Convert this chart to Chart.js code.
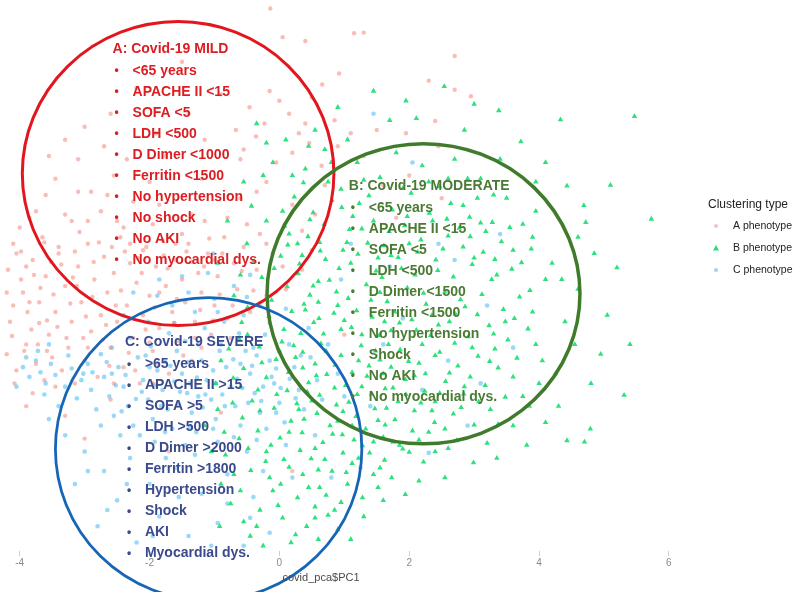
<!DOCTYPE html>
<html>
<head>
<meta charset="utf-8">
<script src="https://cdn.jsdelivr.net/npm/chart.js@4.4.1/dist/chart.umd.min.js"></script>
<style>
  html, body { margin: 0; padding: 0; background: #ffffff; }
  #wrap { position: relative; width: 795px; height: 592px; }
</style>
</head>
<body>
<div id="wrap"><canvas id="c" width="795" height="592"></canvas></div>
<script>
// PCA scores (PC1, PC2) per clustering phenotype
const xTicks = [-4, -2, 0, 2, 4, 6];
const seriesNames = ['A phenotype', 'B phenotype', 'C phenotype'];

const phenoA = [
  [-0.14,4.22],[0.05,3.78],[0.4,3.72],[1.15,3.84],[1.3,3.85],[0.92,3.22],[2.7,3.49],[2.3,3.11],[2.7,2.97],[2.95,2.87],
  [2.4,2.49],[0.66,3.05],[0.5,2.85],[0,2.8],[0.15,2.6],[-0.46,2.7],[-0.23,2.45],[0.4,2.45],[0.46,2.15],[0.2,2.0],
  [-0.36,2.25],[-0.67,2.35],[1.5,2.35],[1.95,2.3],[1.3,1.95],[0.9,2.1],[2.0,1.65],[1.6,1.5],[2.45,2.1],[-0.9,2.9],
  [-1.5,3.4],[-2.2,3.0],[-2.6,2.6],
  [-3.3,2.2],[-3.1,1.9],[-3.45,1.6],[-2.9,1.4],[-3.6,1.35],[-3.0,2.4],[-2.7,2.1],[-2.55,1.65],[-2.75,1.1],[-3.2,0.95],
  [-3.85,1.0],[-3.65,0.7],[-3.4,0.45],[-3.9,0.25],[-2.4,0.85],[-2.25,1.25],[-2.0,1.55],
  [-1.2,1.6],[-0.8,1.0],[-1.6,0.6],[-0.5,0.9],[-2.1,0.5],[-0.35,1.4],[-0.2,0.6],[-1.0,0.35],[0.2,1.2],[0.35,0.8],
  [0.05,0.25],[0.55,1.05],[0.7,1.5],[-0.6,1.9],[-1.9,2.3],[-1.4,2.6],
  [-4.1,0.6],[-3.95,-0.15],[-4.15,-0.6],[-3.8,0.35],[-3.7,-0.3],[-3.6,0.1],[-3.55,-0.8],[-3.45,-0.45],[-3.4,0.55],[-3.3,-0.05],
  [-3.25,-1.0],[-3.2,-0.6],[-3.1,0.25],[-3.05,-0.3],[-3.0,-1.2],[-2.95,0.6],[-2.9,-0.75],[-2.85,0.05],[-2.8,-1.45],[-2.75,-0.5],
  [-2.7,0.4],[-2.65,-0.15],[-2.6,-1.0],[-2.55,0.15],[-2.5,-0.6],[-2.45,0.7],[-2.4,-1.3],[-2.35,-0.35],[-2.3,0.3],[-2.25,-0.85],
  [-2.2,0.0],[-2.15,-1.55],[-2.1,-0.5],[-2.05,0.55],[-2.0,-0.2],[-1.95,-1.05],[-1.9,0.25],[-1.85,-0.7],[-1.8,0.65],[-1.75,-0.05],
  [-1.7,-1.4],[-1.65,-0.45],[-1.6,0.35],[-1.55,-0.9],[-1.5,0.05],[-1.45,-0.3],[-1.4,0.6],[-1.35,-1.2],[-1.3,-0.6],[-1.25,0.15],
  [-1.2,-0.15],[-1.1,0.45],[-1.05,-0.8],[-1.0,-0.35],[-0.95,0.1],[-0.85,0.7],[-0.8,-0.55],[-0.7,0.3],[-0.65,-0.1],[-0.55,0.55],
  [-0.45,-0.45],[-0.35,0.2],[-0.2,-0.2],[-0.1,0.45],[0.1,-0.1],
  [-4.2,-1.1],[-4.05,-1.35],[-3.9,-0.95],[-3.75,-1.25],[-3.62,-1.5],[-3.5,-1.15],[-3.35,-1.35],[-3.15,-1.55],[-3.58,-1.05],[-3.28,-0.85],
  [-3.7,-0.62],[-2.95,-1.0],[-3.9,-1.9],[-3.3,-2.05],[-2.6,-1.8],[-3.0,-2.4],
  [0.5,0.5],[1.0,-0.8],[-0.9,-2.0],[0.2,-2.9],[-1.7,-2.6],[1.8,1.0],[2.5,1.3],[-0.2,1.55],
  [-4.18,0.2],[-4.0,0.85],[-3.88,-0.45],[-3.78,0.12],[-3.62,0.62],[-3.48,-0.18],[-3.36,0.28],[-3.22,-0.32],[-3.08,0.78],[-2.98,-0.52],
  [-2.86,0.32],[-2.72,-0.88],[-2.58,0.55],[-2.44,-0.12],[-2.32,-1.08],[-2.18,0.38],[-2.06,-0.72],[-1.92,-0.38],[-1.78,0.42],[-1.62,-0.62],
  [-1.48,-1.12],[-1.36,0.32],[-1.22,-0.42],[-1.08,0.68],[-0.92,-0.18],[-3.98,0.48],[-3.72,-0.95],[-3.15,0.48],[-2.62,-1.28],[-2.22,-1.35],
  [-1.88,-1.25],[-2.5,0.95],[-3.3,1.05],[-1.95,0.9],[-1.5,0.75],[-1.15,0.95],[-3.82,-0.72],[-4.1,-0.35],
  [-4.12,-0.82],[-3.93,-1.05],[-3.68,-0.08],[-3.52,0.32],[-3.42,-0.68],[-3.18,0.08],[-3.02,-0.85],[-2.88,-0.22],[-2.78,0.62],[-2.67,-0.65],
  [-2.52,-0.35],[-2.38,0.48],[-2.27,-0.55],[-2.12,0.15],[-2.0,-0.92],[-1.85,-0.15],[-1.72,0.22],[-1.58,-0.25],[-1.43,0.48],[-1.3,-0.85],
  [-1.16,0.25],[-1.02,-0.58],[-0.88,0.45],[-0.72,-0.35],[-0.58,0.18],[-0.4,-0.12],[-3.85,-0.3],[-3.98,0.05],[-3.58,-0.58],[-3.12,-0.05],
  [-0.05,1.85],[0.3,2.3],[-0.55,2.05],[0.65,1.8],[-0.15,2.95],[0.85,2.5],[1.1,2.3],[-1.15,2.2],[-1.75,1.95],[-2.35,1.9],
  [-3.55,1.95],[-3.75,1.1],[-4.05,0.45],[-2.65,1.35],[-2.95,0.95],[-3.1,1.4],[-2.3,0.6],[-1.85,1.2],[-1.35,1.05],[-0.6,1.3],
  [-4.2,-0.15],[-4.08,-1.55],[-3.8,-1.7],[-3.45,-1.6],[-2.55,-1.55],[-1.95,-1.55],[-1.2,-1.0],[-0.75,-0.85],[0.35,0.2],[-0.3,0.75]
];

const phenoB = [
  [-0.35,2.45],[0.1,2.2],[-0.1,1.85],[0.55,2.35],[0.9,2.7],[1.45,2.95],[2.54,3.02],[3.38,2.65],[4.33,2.51],[5.47,2.56],
  [2.11,2.53],[3.72,2.17],[1.8,2.0],[1.2,1.85],[2.7,1.9],[3.1,1.6],[0.4,1.75],[-0.55,1.55],[0.75,1.55],[2.3,1.55],
  [3.5,1.3],[4.43,1.49],[4.69,1.19],[4.72,0.93],[5.73,0.98],[5.2,0.23],[3.1,0.92],[3.9,0.7],[4.2,0.3],[4.6,-0.1],
  [4.95,-1.1],[4.8,-1.55],[5.31,-1.73],[4.79,-2.25],[4.7,-2.45],[4.43,-2.43],[3.81,-2.5],[3.2,-2.47],[2.73,-2.43],[2.99,-2.77],
  [2.22,-2.76],[1.94,-3.26],[2.4,-2.6],[4.3,-1.9],[4.05,-1.2],[4.4,-0.6],[3.75,-1.75],[4.1,0.05],[3.6,-2.2],[5.05,-0.5],
  [4.85,0.45],[3.95,1.1],
  [0.23,1.32],[0.52,1.08],[0.81,1.27],[1.13,1.02],[1.38,1.34],[1.74,1.12],[2.03,1.38],[2.31,1.07],[2.64,1.22],[2.93,1.01],
  [3.28,0.93],[0.08,0.87],[0.44,0.71],[0.69,0.9],[1.04,0.62],[1.27,0.83],[1.61,0.57],[1.93,0.88],[2.18,0.66],[2.52,0.52],
  [2.77,0.84],[3.14,0.47],[3.42,0.63],[3.73,0.31],[0.02,0.41],[0.31,0.29],[0.63,0.49],[0.92,0.22],[1.21,0.44],[1.49,0.18],
  [1.83,0.39],[2.09,0.12],[2.41,0.35],[2.68,0.09],[2.97,0.28],[3.27,0.05],[3.58,0.21],[3.86,-0.12],[-0.27,0.08],[0.12,-0.06],
  [0.47,-0.19],[0.77,0.04],[1.06,-0.24],[1.34,-0.03],[1.66,-0.29],[1.97,-0.08],[2.26,-0.33],[2.55,-0.14],[2.86,-0.37],[3.12,-0.18],
  [3.45,-0.41],[3.7,-0.22],[-0.49,-0.38],[-0.16,-0.52],[0.19,-0.44],[0.53,-0.61],[0.84,-0.47],[1.11,-0.69],[1.43,-0.53],[1.72,-0.74],
  [2.04,-0.57],[2.33,-0.81],[2.62,-0.6],[2.91,-0.83],[3.23,-0.66],[3.52,-0.88],[3.83,-0.71],[-0.62,-0.86],[-0.31,-0.99],[0.04,-0.91],
  [0.36,-1.07],[0.64,-0.94],[0.95,-1.12],[1.26,-0.97],[1.55,-1.19],[1.86,-1.03],[2.15,-1.24],[2.47,-1.07],[2.75,-1.28],[3.06,-1.13],
  [3.37,-1.31],[3.66,-1.16],[-0.55,-1.32],[-0.2,-1.46],[0.14,-1.38],[0.45,-1.54],[0.73,-1.41],[1.02,-1.58],[1.35,-1.44],[1.63,-1.63],
  [1.94,-1.49],[2.24,-1.67],[2.56,-1.52],[2.84,-1.71],[3.17,-1.58],[3.48,-1.76],[-0.42,-1.82],[-0.08,-1.93],[0.27,-1.86],[0.58,-2.01],
  [0.88,-1.88],[1.18,-2.06],[1.47,-1.94],[1.78,-2.11],[2.08,-1.97],[2.39,-2.15],[2.68,-2.02],[3.0,-2.19],[-0.33,-2.28],[0.01,-2.39],
  [0.35,-2.31],[0.67,-2.46],[0.97,-2.34],[1.28,-2.51],[1.6,-2.38],[1.9,-2.56],[-0.21,-2.75],[0.15,-2.84],[0.49,-2.71],[0.81,-2.9],
  [1.12,-2.78],[1.45,-2.95],[-0.1,-3.2],[0.28,-3.31],[0.62,-3.15],[0.95,-3.38],[0.05,-3.62],[0.42,-3.75],[-0.3,-3.5],[0.75,-3.58],
  [0.37,1.54],[1.55,1.62],[2.47,1.48],[0.95,1.44],[2.2,1.8],[3.05,1.3],[1.88,0.22],[0.6,0.02],[2.83,0.55],[3.32,0.36],
  [1.45,0.95],[0.28,0.6],[2.36,0.95],[1.1,0.3],[1.78,-0.45],[2.71,-0.48],[0.9,-0.35],[0.33,-0.78],[1.27,-0.8],[2.2,-0.95],
  [3.32,-1.02],[-0.05,-1.18],[0.55,-1.25],[1.72,-1.3],[2.94,-1.45],[1.2,-1.72],[2.4,-1.83],[-0.6,-1.6],[0.12,-1.66],[0.78,-2.2],
  [1.62,-2.73],[2.15,-2.42],[-0.48,-2.55],[0.32,-2.58],[1.33,-2.25],[0.55,-3.45],[-0.15,-3.0],[1.05,-3.1],[0.18,-4.0],[-0.45,-3.9],
  [0.6,-3.95],[1.3,-3.6],[-0.7,-2.95],[-0.85,-2.3],[-0.95,-1.95],[-0.75,-3.4],[-0.9,-1.2],[-0.7,-0.2],[-0.95,0.3],[-0.5,0.6],
  [-0.2,0.95],[-0.8,0.95],[3.9,-0.45],[3.6,-1.45],[3.95,-0.95],[3.25,-1.95],[3.55,0.85],[3.88,0.52],[4.0,-1.55],[2.55,-2.25],
  [2.8,-1.92],[1.15,-2.42],
  [0.4,-0.42],[0.68,-0.79],[1.0,-0.58],[1.38,-1.28],[1.68,-0.95],[1.95,-1.72],[0.5,-1.82],[0.85,-1.62],[1.52,-2.12],[2.05,-2.28],
  [0.25,-1.15],[1.85,-0.62],[0.72,-1.05],[1.12,-1.38],[1.42,-1.71],[0.38,-2.1],[0.98,-2.62],[1.75,-2.45],[2.25,-1.4],[0.6,-0.3],
  [1.55,-0.15],[2.45,-0.65],
  [0.13,0.58],[0.71,0.36],[1.36,0.61],[2.13,0.47],[2.94,0.71],[-0.39,0.33],[0.96,1.16],[1.69,0.79],[2.58,0.98],[3.35,0.12],
  [-0.12,-0.27],[0.29,0.14],[0.88,-0.14],[1.58,0.08],[2.22,-0.16],[2.79,-0.26],[3.48,-0.6],[-0.58,-0.61],[0.07,-0.72],[0.61,-0.55],
  [1.19,-0.43],[1.54,-0.81],[2.11,-0.73],[2.7,-0.93],[3.05,-0.49],[-0.27,-1.23],[0.36,-1.31],[0.86,-1.27],[1.48,-1.05],[1.99,-1.21],
  [2.62,-1.39],[3.24,-1.21],[-0.71,-1.47],[-0.04,-1.72],[0.62,-1.73],[1.07,-1.84],[1.83,-1.83],[2.47,-1.7],[3.07,-1.83],[-0.57,-2.08],
  [0.18,-2.13],[0.9,-2.13],[1.63,-2.19],[2.3,-2.3],[-0.13,-2.5],[0.55,-2.55],[1.39,-2.62],[2.0,-2.61],[-0.44,-2.89],[0.36,-2.95],
  [1.03,-2.92],[1.73,-3.0],[-0.02,-3.43],[0.72,-3.27],[1.28,-3.31],[-0.55,-3.68],[0.25,-3.88],[0.9,-3.8],[-0.25,-4.05],[1.1,-3.95],
  [0.47,0.97],[1.23,1.22],[1.97,1.02],[2.83,1.19],[0.05,1.1],[-0.43,1.18],[3.6,0.5],[3.18,0.79],[2.44,0.19],[1.72,0.42],
  [0.98,0.5],[0.35,0.42],[-0.08,0.22],[-0.6,0.12],[0.52,-0.05],[1.41,-0.27],[2.35,-0.5],[3.3,-0.79],[3.62,-0.55],[2.97,-1.0],
  [2.08,-1.43],[1.27,-1.6],[0.43,-1.68],[-0.33,-1.65],[-0.78,-1.02],[-0.49,-0.8],[0.22,-0.97],[1.6,-1.4],[2.35,-1.97],[1.12,-2.2],
  [0.7,-2.72],[1.55,-2.85],[0.07,-2.72],[-0.62,-2.4],[0.45,-3.15],[1.85,-2.5],[2.6,-2.55],[3.37,-2.18],[3.85,-1.9],[4.25,-1.4],
  [4.55,-0.95],[4.35,0.05],[4.6,0.7],[3.95,1.55],[3.4,1.9],[2.85,2.35],[1.7,2.5],[0.7,2.05],[-0.2,2.15],[0.2,1.65],
  [1.95,2.8],[3.0,2.75],[4.1,1.85],[5.1,1.5],[5.4,-0.95],[4.1,-2.15],[3.35,-2.7],[2.55,-3.0],[1.6,-3.35],[2.15,-3.05],
  [0.15,0.75],[0.62,0.62],[1.08,0.82],[1.52,0.38],[2.0,0.6],[2.6,0.72],[3.0,0.38],[0.38,-0.33],[0.95,-0.72],[1.62,-0.6],
  [2.4,-1.12],[2.85,-1.6],[0.0,-1.05],[0.57,-1.43],[1.22,-1.2],[1.75,-1.62],[2.18,-1.85],[0.3,-1.95],[0.98,-1.98],[1.65,-1.93],
  [-0.3,-1.97],[0.82,-2.33],[1.45,-2.45],[0.15,-2.3],[-0.2,-2.6],[0.6,-2.88],[1.22,-2.7],[0.02,-3.1],[0.55,-3.62],[-0.6,-3.2],
  [-0.35,-3.75],[0.85,-3.5],[1.52,-3.15],[-0.83,-2.65],[-0.72,-1.85],[-0.98,-1.55],[-1.05,-2.6],[-0.9,-3.1],[-1.15,-2.2],[-0.92,-3.75],
  [1.3,1.58],[1.9,1.45],[2.6,1.6],[0.8,1.85],[1.05,2.2],[2.9,1.6],[3.3,1.35],[0.45,2.1],[-0.25,1.65],[3.75,0.9]
];

const phenoC = [
  [-3.95,-1.3],[-3.85,-1.45],[-3.75,-1.2],[-3.68,-1.38],[-3.6,-1.55],[-3.52,-1.25],[-3.45,-1.42],[-3.3,-1.6],[-3.2,-1.32],[-3.12,-1.78],
  [-3.05,-1.5],[-2.95,-1.25],[-2.9,-1.65],[-2.82,-1.95],[-3.4,-1.9],[-4.05,-1.6],[-3.55,-0.95],[-2.75,-1.1],
  [-2.7,-1.45],[-2.62,-1.75],[-2.55,-2.05],[-2.48,-1.3],[-2.4,-1.6],[-2.33,-1.9],[-2.25,-2.2],[-2.18,-1.15],[-2.1,-1.5],[-2.02,-1.8],
  [-1.95,-2.1],[-1.88,-1.35],[-1.8,-1.65],[-1.72,-1.95],[-1.65,-2.25],[-1.58,-1.05],[-1.5,-1.4],[-1.42,-1.7],[-1.35,-2.0],[-1.28,-2.3],
  [-1.2,-1.2],[-1.12,-1.5],[-1.05,-1.8],[-0.98,-2.1],[-0.9,-0.95],[-0.82,-1.3],[-0.75,-1.6],[-0.68,-1.9],[-0.6,-2.2],[-0.52,-1.05],
  [-0.45,-1.4],[-0.38,-1.7],[-0.3,-2.0],[-0.22,-0.8],[-0.15,-1.2],[-0.08,-1.55],[0.0,-1.85],[0.08,-2.15],[0.15,-0.95],[0.23,-1.3],
  [0.3,-1.65],[0.38,-1.95],[0.48,-1.15],[0.58,-1.5],[0.66,-1.8],[-2.58,-1.0],[-2.3,-0.85],[-1.98,-0.98],[-1.7,-0.78],[-1.45,-0.9],
  [-1.15,-0.7],[-0.85,-0.6],[-0.55,-0.5],[-0.3,-0.35],[-1.3,-0.45],[-1.0,-0.25],[-1.65,-0.35],[-0.7,-0.05],[-1.85,0.05],[-1.5,0.1],
  [-0.45,0.12],[-1.1,0.15],
  [-2.12,-1.68],[-1.76,-1.22],[-1.38,-1.55],[-1.02,-1.35],[-0.65,-1.48],[-0.35,-1.12],[-0.05,-1.32],[0.25,-1.78],[-1.55,-1.88],[-1.18,-1.92],
  [-0.88,-1.72],[-0.48,-1.85],[-0.2,-2.25],[-2.45,-2.35],[-1.92,-2.45],[-1.45,-2.5],[-0.95,-2.45],[-0.5,-2.6],[0.1,-2.5],[-2.0,-1.3],
  [-1.62,-1.52],[-1.25,-1.75],[-0.92,-1.05],[-0.6,-1.25],[-0.25,-1.6],[0.45,-0.7],[0.75,-0.95],[0.9,-1.4],
  [-3.0,-2.6],[-2.7,-2.9],[-2.3,-2.7],[-2.0,-3.1],[-1.6,-2.85],[-1.2,-3.25],[-0.8,-2.95],[-0.4,-3.3],[-2.5,-3.35],[-1.85,-3.6],
  [-1.4,-3.9],[-0.95,-3.7],[-0.55,-4.05],[-2.2,-4.0],[-2.8,-3.75],[0.2,-3.0],[-0.15,-3.85],[-1.05,-4.05],[-3.3,-2.35],[-3.55,-2.1],
  [1.1,0.6],[1.9,-0.55],[2.6,-1.2],[3.2,-0.35],[1.4,-1.9],[2.9,-2.2],[1.7,0.25],[3.4,0.75],[2.3,-2.62],[1.25,-2.85],
  [2.05,1.85],[1.45,2.6],[0.8,-3.0],[3.6,-1.0],[2.7,0.35],
  [-2.88,-1.38],[-2.66,-1.22],[-2.52,-1.58],[-2.37,-1.42],[-2.21,-1.79],[-2.06,-1.12],[-1.93,-1.58],[-1.82,-1.9],[-1.68,-1.28],[-1.53,-1.68],
  [-1.4,-1.22],[-1.27,-1.46],[-1.14,-1.72],[-0.98,-1.55],[-0.84,-1.9],[-0.71,-1.18],[-0.57,-1.62],[-0.42,-1.28],[-0.28,-1.82],[-0.12,-1.45],
  [0.02,-1.62],[0.16,-1.48],[0.33,-1.12],[-2.43,-1.98],[-2.15,-2.35],[-1.76,-2.3],[-1.38,-2.22],[-1.02,-2.25],[-0.7,-2.38],[-0.35,-2.42],
  [-3.72,-1.05],[-3.9,-1.15],[-3.62,-1.72],[-3.25,-1.12],[-3.02,-1.4],[-2.58,-1.4],[-1.62,-0.62],[-1.25,-0.95],[-0.95,-0.45],[-0.62,-0.78],
  [-0.15,-0.62],[0.1,-0.4],[-2.02,-0.6],[-2.4,-0.5],[-1.4,-0.15],[-0.5,-0.22],[-2.75,-2.2],[-2.95,-2.9],[-1.75,-2.7],[-1.3,-2.65],
  [-0.8,-3.4],[-0.25,-2.9],[-2.35,-3.1],[-1.55,-3.3],[-2.65,-3.5],[-3.15,-3.1],[-1.95,-3.9],[-0.45,-3.62],[1.6,-0.95],[0.95,0.05],
  [2.2,-1.65],[1.0,-1.75],[2.45,0.6],[3.1,-1.55],[0.55,-2.35],[-0.05,-2.0],[-0.4,-1.0],[-1.88,-0.2],[-2.25,-0.15],[-1.02,0.45]
];

// Cluster profiles written over the scatter
const mildTitle = 'A: Covid-19 MILD';
const mildNotes = ['<65 years','APACHE II <15','SOFA <5','LDH <500','D Dimer <1000','Ferritin <1500','No hypertension','No shock','No AKI','No myocardial dys.'];
const moderateTitle = 'B: Covid-19 MODERATE';
const moderateNotes = ['<65 years','APACHE II <15','SOFA <5','LDH <500','D Dimer <1500','Ferritin <1500','No hypertension','Shock','No AKI','No myocardial dys.'];
const severeTitle = 'C: Covid-19 SEVERE';
const severeNotes = ['>65 years','APACHE II >15','SOFA >5','LDH >500','D Dimer >2000','Ferritin >1800','Hypertension','Shock','AKI','Myocardial dys.'];

const toPts = arr => arr.map(p => ({ x: p[0], y: p[1] }));

// Outline ellipses around each group (PCA units) and their text blocks
const rings = [
  { cx: -1.56, cy: 1.68, rx: 2.40, ry: 2.34, color: '#e3161e', width: 3 },
  { cx: 2.22, cy: -0.17, rx: 2.41, ry: 2.31, color: '#3f7b2b', width: 3.5 },
  { cx: -1.09, cy: -2.56, rx: 2.36, ry: 2.33, color: '#1766b6', width: 2.8 }
];
const blocks = [
  { title: mildTitle, notes: mildNotes, ax: -2.57, ay: 3.6, color: '#dc1d22' },
  { title: moderateTitle, notes: moderateNotes, ax: 1.07, ay: 1.49, color: '#4b7a33' },
  { title: severeTitle, notes: severeNotes, ax: -2.38, ay: -0.92, color: '#3a4a8c' }
];

const overlay = {
  id: 'overlay',
  afterDraw(chart) {
    const ctx = chart.ctx;
    const xs = chart.scales.x, ys = chart.scales.y;
    const ux = Math.abs(xs.getPixelForValue(1) - xs.getPixelForValue(0));
    const uy = Math.abs(ys.getPixelForValue(1) - ys.getPixelForValue(0));
    ctx.save();
    rings.forEach(r => {
      ctx.beginPath();
      ctx.ellipse(xs.getPixelForValue(r.cx), ys.getPixelForValue(r.cy), r.rx * ux, r.ry * uy, 0, 0, Math.PI * 2);
      ctx.strokeStyle = r.color;
      ctx.lineWidth = r.width;
      ctx.stroke();
    });
    ctx.textBaseline = 'middle';
    ctx.textAlign = 'left';
    blocks.forEach(b => {
      const x0 = xs.getPixelForValue(b.ax), y0 = ys.getPixelForValue(b.ay);
      ctx.fillStyle = b.color;
      ctx.font = "bold 14px 'Liberation Sans', Arial, sans-serif";
      ctx.fillText(b.title, x0, y0);
      b.notes.forEach((t, i) => {
        const y = y0 + 22 + i * 21;
        ctx.font = "bold 12px 'Liberation Sans', Arial, sans-serif";
        ctx.fillText('\u2022', x0 + 2, y);
        ctx.font = "bold 14px 'Liberation Sans', Arial, sans-serif";
        ctx.fillText(t, x0 + 20, y);
      });
    });

    // axis title
    ctx.fillStyle = '#4a4a4a';
    ctx.font = "11px 'Liberation Sans', Arial, sans-serif";
    ctx.textAlign = 'center';
    ctx.fillText('covid_pca$PC1', 321, 578);

    // legend
    const lx = chart.chartArea.right + 18;
    ctx.textAlign = 'left';
    ctx.fillStyle = '#222';
    ctx.font = "12px 'Liberation Sans', Arial, sans-serif";
    ctx.fillText('Clustering type', lx, 205);
    ctx.font = "10.5px 'Liberation Sans', Arial, sans-serif";
    const sw = ['rgba(240,150,150,0.6)', 'rgba(25,215,110,0.9)', 'rgba(120,170,230,0.6)'];
    seriesNames.forEach((name, i) => {
      const y = 226 + i * 22;
      const mx = lx + 8;
      ctx.fillStyle = sw[i];
      ctx.beginPath();
      if (i === 1) {
        ctx.moveTo(mx, y - 3); ctx.lineTo(mx + 3, y + 2.5); ctx.lineTo(mx - 3, y + 2.5); ctx.closePath();
      } else {
        ctx.arc(mx, y, 2, 0, Math.PI * 2);
      }
      ctx.fill();
      ctx.fillStyle = '#222';
      ctx.fillText(name, lx + 25, y);
    });
    ctx.restore();
  }
};

new Chart(document.getElementById('c'), {
  type: 'scatter',
  data: {
    datasets: [
      { label: seriesNames[0], data: toPts(phenoA), pointStyle: 'circle', pointRadius: 2.2, borderWidth: 0,
        backgroundColor: 'rgba(244,135,125,0.55)' },
      { label: seriesNames[1], data: toPts(phenoB), pointStyle: 'triangle', pointRadius: 3.2, borderWidth: 0,
        backgroundColor: 'rgba(22,222,112,0.9)' },
      { label: seriesNames[2], data: toPts(phenoC), pointStyle: 'circle', pointRadius: 2.3, borderWidth: 0,
        backgroundColor: 'rgba(110,200,245,0.7)' }
    ]
  },
  options: {
    responsive: false,
    animation: false,
    devicePixelRatio: 1,
    layout: { padding: { left: 0, right: 105, top: 0, bottom: 22 } },
    plugins: { legend: { display: false }, tooltip: { enabled: false } },
    scales: {
      x: {
        type: 'linear', min: -4.242, max: 6.325,
        afterBuildTicks(s) { s.ticks = xTicks.map(v => ({ value: v })); },
        grid: { drawOnChartArea: false, drawTicks: true, tickLength: 5, color: '#cfcfcf' },
        border: { display: false },
        ticks: { font: { size: 10, family: "'Liberation Sans', Arial, sans-serif" }, color: '#8a8a8a', padding: 1, maxRotation: 0, autoSkip: false }
      },
      y: { display: false, min: -4.13, max: 4.29 }
    }
  },
  plugins: [overlay]
});
</script>
</body>
</html>
